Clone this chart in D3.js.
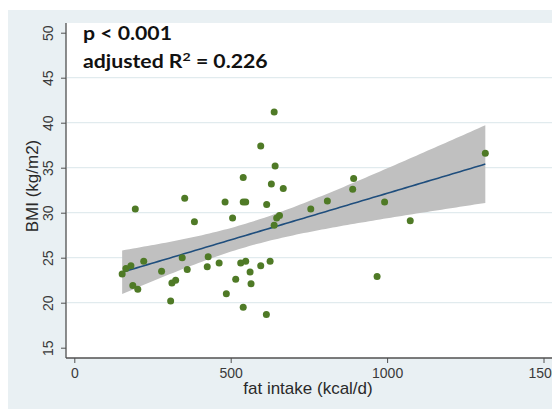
<!DOCTYPE html>
<html lang="en">
<head>
<meta charset="utf-8">
<title>BMI vs fat intake</title>
<script src="https://cdn.jsdelivr.net/npm/d3@7"></script>
<style>
	body {
		margin: 0;
		padding: 0;
		background: #fff;
	}

	.tick-label {
		font-family: "Liberation Sans", Arial, sans-serif;
		font-size: 14px;
		fill: #3a3a3a;
	}

	.axis-title {
		font-family: "Liberation Sans", Arial, sans-serif;
		font-size: 17px;
		fill: #2a2a2a;
	}

	.note {
		font-family: Lato, "Open Sans", sans-serif;
		font-weight: bold;
		font-size: 18px;
		fill: #111;
	}
</style>
</head>
<body>
<div id="chart"></div>
<script>

	// data
	var fatIntake = [153, 165, 181, 222, 187, 203, 195, 279, 312, 324,
		308, 345, 361, 353, 384, 428, 425, 463, 482, 486,
		506, 516, 532, 548, 562, 565, 540, 540, 548, 540,
		596, 596, 614, 615, 626, 630, 639, 642, 668, 639,
		647, 656, 756, 809, 890, 893, 992, 968, 1074, 1314];
	var bmi = [23.2, 23.8, 24.1, 24.6, 21.9, 21.5, 30.4, 23.5, 22.2, 22.5,
		20.2, 25.0, 23.7, 31.6, 29.0, 25.1, 24.0, 24.4, 31.2, 21.0,
		29.4, 22.6, 24.4, 24.6, 23.4, 22.1, 33.9, 31.2, 31.2, 19.5,
		37.4, 24.1, 18.7, 30.9, 24.6, 33.2, 41.2, 35.2, 32.7, 28.6,
		29.4, 29.7, 30.4, 31.3, 32.6, 33.8, 31.2, 22.9, 29.1, 36.6];

	var xTicks = [0, 500, 1000, 1500];
	var yTicks = [15, 20, 25, 30, 35, 40, 45, 50];
	var gridTicks = [20, 25, 30, 35, 40, 45];

	var noteP = "p < 0.001";
	var noteR = ["adjusted R", "2", " = 0.226"];

	// colours
	var col_panel = "#e9f0f3";
	var col_grid = "#e1ebee";
	var col_axis = "#505050";
	var col_band = "#c0c0c0";
	var col_line = "#1f4e7d";
	var col_point = "#4f7a26";

	var W = 552, H = 409;
	var plot = { left: 66, top: 23, right: 560, bottom: 358 };

	var svg = d3.select("#chart").append("svg")
		.attr("width", W)
		.attr("height", H);

	svg.append("rect").attr("width", W).attr("height", H).attr("fill", "#fff");
	svg.append("rect")
		.attr("x", 8).attr("y", 10)
		.attr("width", W).attr("height", H)
		.attr("fill", col_panel);
	svg.append("rect")
		.attr("x", plot.left).attr("y", plot.top)
		.attr("width", plot.right - plot.left).attr("height", plot.bottom - plot.top)
		.attr("fill", "#fff");

	var x = d3.scaleLinear().domain([0, 1500]).range([74.3, 543.5]);
	var y = d3.scaleLinear().domain([15, 50]).range([347.7, 32.7]);

	// grid lines
	svg.selectAll("line.grid")
		.data(gridTicks)
		.enter().append("line")
		.attr("class", "grid")
		.attr("x1", plot.left + 1).attr("x2", plot.right)
		.attr("y1", function (d) { return y(d); })
		.attr("y2", function (d) { return y(d); })
		.attr("stroke", col_grid)
		.attr("stroke-width", 1.2);

	// linear fit + 95% CI, computed from the points
	var n = fatIntake.length;
	var mx = d3.mean(fatIntake), my = d3.mean(bmi);
	var sxx = 0, sxy = 0;
	for (var i = 0; i < n; i++) {
		sxx += (fatIntake[i] - mx) * (fatIntake[i] - mx);
		sxy += (fatIntake[i] - mx) * (bmi[i] - my);
	}
	var slope = sxy / sxx, icpt = my - slope * mx;
	var sse = 0;
	for (var i = 0; i < n; i++) {
		var r = bmi[i] - (icpt + slope * fatIntake[i]);
		sse += r * r;
	}
	var s = Math.sqrt(sse / (n - 2));
	var tCrit = 2.011;

	var xmin = d3.min(fatIntake), xmax = d3.max(fatIntake);
	var grid = d3.range(0, 101).map(function (k) { return xmin + (xmax - xmin) * k / 100; });
	var fit = grid.map(function (g) {
		var yh = icpt + slope * g;
		var se = s * Math.sqrt(1 / n + (g - mx) * (g - mx) / sxx);
		return { x: g, y: yh, lo: yh - tCrit * se, hi: yh + tCrit * se };
	});

	svg.append("path")
		.datum(fit)
		.attr("fill", col_band)
		.attr("d", d3.area()
			.x(function (d) { return x(d.x); })
			.y0(function (d) { return y(d.lo); })
			.y1(function (d) { return y(d.hi); }));

	svg.append("path")
		.datum(fit)
		.attr("fill", "none")
		.attr("stroke", col_line)
		.attr("stroke-width", 1.6)
		.attr("d", d3.line()
			.x(function (d) { return x(d.x); })
			.y(function (d) { return y(d.y); }));

	// points
	svg.selectAll("circle.pt")
		.data(d3.range(n))
		.enter().append("circle")
		.attr("class", "pt")
		.attr("cx", function (i) { return x(fatIntake[i]); })
		.attr("cy", function (i) { return y(bmi[i]); })
		.attr("r", 3.5)
		.attr("fill", col_point);

	// axes
	var yAxis = svg.append("g")
		.attr("transform", "translate(" + plot.left + ",0)")
		.call(d3.axisLeft(y).tickValues(yTicks).tickSize(5).tickFormat(d3.format("d")));
	yAxis.select(".domain").attr("d", "M0," + plot.top + "V" + plot.bottom);
	yAxis.selectAll("line").attr("stroke", col_axis);
	yAxis.selectAll(".domain").attr("stroke", col_axis).attr("stroke-width", 1.3);
	yAxis.selectAll("text")
		.attr("class", "tick-label")
		.attr("x", null).attr("dy", null)
		.attr("text-anchor", "middle")
		.attr("transform", "translate(-13,0) rotate(-90)")
		.attr("y", 0);

	var xAxis = svg.append("g")
		.attr("transform", "translate(0," + plot.bottom + ")")
		.call(d3.axisBottom(x).tickValues(xTicks).tickSize(5).tickFormat(d3.format("d")));
	xAxis.select(".domain").attr("d", "M" + plot.left + ",0H" + plot.right);
	xAxis.selectAll("line").attr("stroke", col_axis);
	xAxis.selectAll(".domain").attr("stroke", col_axis).attr("stroke-width", 1.3);
	xAxis.selectAll("text")
		.attr("class", "tick-label")
		.attr("dy", null)
		.attr("y", 20);

	// axis titles
	svg.append("text")
		.attr("class", "axis-title")
		.attr("x", 308).attr("y", 394)
		.attr("text-anchor", "middle")
		.text("fat intake (kcal/d)");

	svg.append("text")
		.attr("class", "axis-title")
		.attr("transform", "translate(38,186) rotate(-90)")
		.attr("text-anchor", "middle")
		.text("BMI (kg/m2)");

	// annotation (source text is wide, so stretch a little horizontally)
	var note = svg.append("g")
		.attr("transform", "translate(83,0) scale(1.18,1)");

	note.append("text")
		.attr("class", "note")
		.attr("x", 0).attr("y", 40)
		.text(noteP);

	var t2 = note.append("text")
		.attr("class", "note")
		.attr("x", 0).attr("y", 68);
	t2.append("tspan").text(noteR[0]);
	t2.append("tspan").attr("dy", -7).style("font-size", "12px").text(noteR[1]);
	t2.append("tspan").attr("dy", 7).text(noteR[2]);

</script>
</body>
</html>
